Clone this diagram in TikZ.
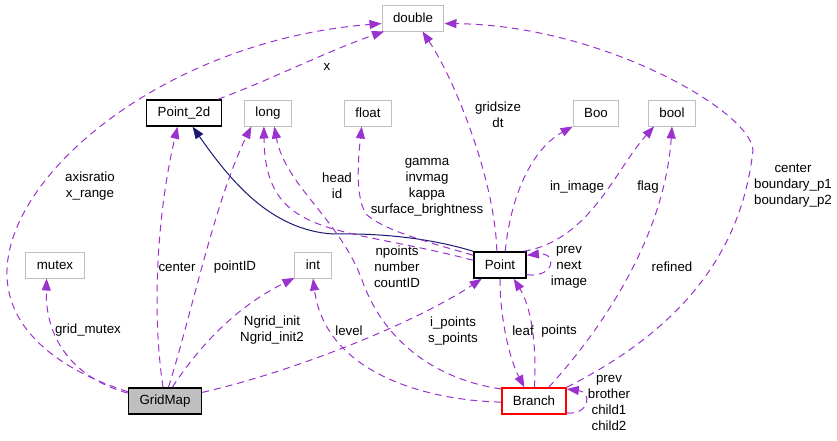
\documentclass[tikz,border=0pt]{standalone}
\usepackage{fontspec}
\setmainfont{Liberation Sans}
\usepackage{tikz}
\usetikzlibrary{positioning,arrows.meta}
\definecolor{edgepurple}{HTML}{9A32CD}
\definecolor{boxgray}{HTML}{BFBFBF}
\definecolor{inherblue}{HTML}{191970}

\begin{document}
\begin{tikzpicture}[x=1pt, y=-1pt,
    every node/.style={font=\fontsize{13.3}{16}\selectfont, align=center},
    box/.style={rectangle, draw, minimum height=26pt, inner xsep=11pt, inner ysep=0pt},
    typebox/.style={box, draw=boxgray, line width=1pt},
    clsbox/.style={box, draw=black, line width=1.5pt},
    mem/.style={draw=edgepurple, line width=1pt, dash pattern=on 7pt off 5pt, -{Triangle[length=12pt,width=9pt]}},
    inh/.style={draw=inherblue, line width=1pt, -{Triangle[length=12pt,width=9pt]}},
    lbl/.style={inner sep=0pt}]
    \useasboundingbox (0,0) rectangle (837,440);

    \node [typebox] (double) at (413,18) {double};
    \node [clsbox] (point2d) at (184,113) {Point\_2d};
    \node [typebox, right of=point2d, node distance=84pt] (long) {long};
    \node [typebox, right of=long, node distance=100pt] (float) {float};
    \node [typebox] (boo) at (596,113) {Boo};
    \node [typebox, right of=boo, node distance=76pt] (bool) {bool};
    \node [typebox] (mutex) at (55,265) {mutex};
    \node [typebox] (int) at (313,265) {int};
    \node [clsbox] (point) at (500,265) {Point};
    \node [clsbox, fill=boxgray] (gridmap) at (165,401) {GridMap};
    \node [box, draw=red, line width=1.5pt, right of=gridmap, node distance=369pt] (branch) {Branch};

    \node [lbl] (lblaxis) at (90,186) {axisratio\\x\_range};
    \node [lbl] (lblx) at (327,67) {x};
    \node [lbl] (lblgrid) at (498,115) {gridsize\\dt};
    \node [lbl] (lblbound) at (793,186) {center\\boundary\_p1\\boundary\_p2};
    \node [lbl] (lblhead) at (337,186) {head\\id};
    \node [lbl] (lblgamma) at (427,187) {gamma\\invmag\\kappa\\surface\_brightness};
    \node [lbl] (lblimage) at (577,187) {in\_image};
    \node [lbl] (lblflag) at (648,187) {flag};
    \node [lbl] (lblmutex) at (88,330) {grid\_mutex};
    \node [lbl] (lblcenter) at (177,267) {center};
    \node [lbl] (lblpid) at (235,267) {pointID};
    \node [lbl] (lblngrid) at (272,330) {Ngrid\_init\\Ngrid\_init2};
    \node [lbl] (lbllevel) at (349,331) {level};
    \node [lbl] (lblnpts) at (397,267) {npoints\\number\\countID};
    \node [lbl] (lblipts) at (453,331) {i\_points\\s\_points};
    \node [lbl] (lblleaf) at (523,331) {leaf};
    \node [lbl] (lblpoints) at (559,331) {points};
    \node [lbl] (lblnext) at (569,267) {prev\\next\\image};
    \node [lbl] (lblrefined) at (672,267) {refined};
    \node [lbl] (lblchild) at (609,403) {prev\\brother\\child1\\child2};

    \draw [inh] (point.north west) .. controls (430,238) and (380,233) .. (333,234) .. controls (270,230) and (230,180) .. (point2d.-58);
    \draw [mem] (gridmap.166) .. controls (60,370) and (5,330) .. (7,270) .. controls (10,170) and (170,40) .. (double.190);
    \draw [mem] (point2d.22) .. controls (270,80) and (330,50) .. (double.205);
    \draw [mem] (point.103) .. controls (495,180) and (455,80) .. (double.-55);
    \draw [mem] (branch.north east) .. controls (660,340) and (740,270) .. (753,150) .. controls (750,110) and (600,25) .. (double.-10);
    \draw [mem] (gridmap.76) .. controls (190,320) and (215,200) .. (long.-141);
    \draw [mem] (point.170) .. controls (340,225) and (265,240) .. (long.-107);
    \draw [mem] (branch.160) .. controls (440,380) and (385,345) .. (362,280) .. controls (340,220) and (285,185) .. (long.-65);
    \draw [mem] (point.160) .. controls (420,240) and (385,230) .. (367,215) .. controls (355,200) and (358,160) .. (float.-115);
    \draw [mem] (point.69) .. controls (510,200) and (530,150) .. (boo.-150);
    \draw [mem] (point.30) .. controls (590,240) and (615,170) .. (bool.-143);
    \draw [mem] (branch.43) .. controls (610,320) and (665,230) .. (bool.south);
    \draw [mem] (gridmap.168) .. controls (80,380) and (45,345) .. (mutex.-122);
    \draw [mem] (gridmap.98) .. controls (150,300) and (160,200) .. (point2d.-115);
    \draw [mem] (gridmap.62) .. controls (210,330) and (250,300) .. (int.-145);
    \draw [mem] (gridmap.13) .. controls (300,370) and (420,320) .. (point.-143);
    \draw [mem] (branch.182) .. controls (420,400) and (325,370) .. (int.south);
    \draw [mem] (point.-20) .. controls (555,278) and (558,252) .. (point.20);
    \draw [mem] (point.south) .. controls (500,320) and (510,360) .. (branch.125);
    \draw [mem] (branch.88) .. controls (537,340) and (530,305) .. (point.-45);
    \draw [mem] (branch.-20) .. controls (590,415) and (592,392) .. (branch.20);
\end{tikzpicture}
\end{document}
